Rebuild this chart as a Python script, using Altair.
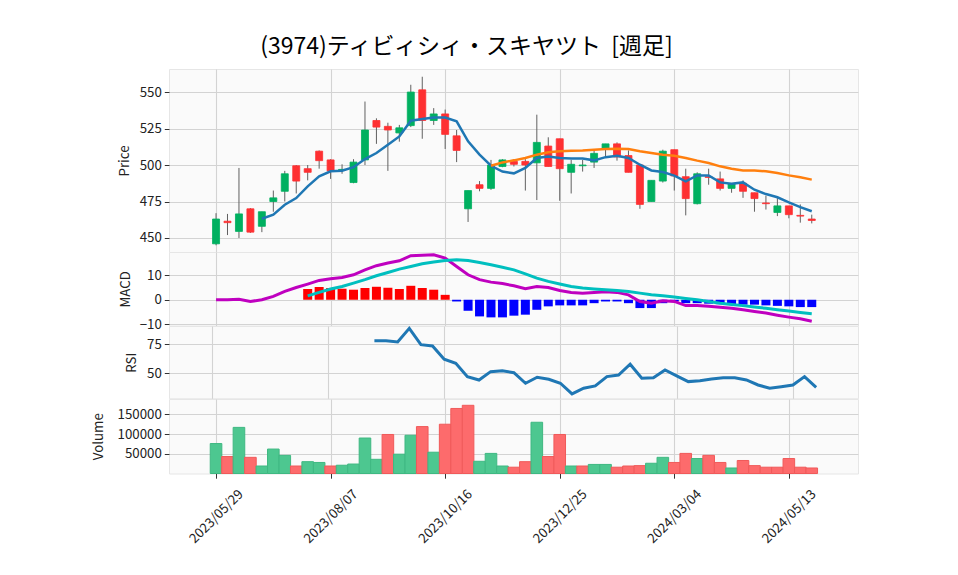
import altair as alt
import pandas as pd

FONT = "Noto Sans CJK JP"
TITLE = "(3974)ティビィシィ・スキヤツト \u00a0[週足]"

# x tick positions (week index) and labels
tick_idx = [0, 10, 20, 30, 40, 50]
tick_labels = ["2023/05/29", "2023/08/07", "2023/10/16", "2023/12/25", "2024/03/04", "2024/05/13"]

# weekly OHLC
opens = [446, 461.5, 454.5, 470, 458, 475, 482, 499.5, 497.5, 509.5,
         503.5, 496.5, 488, 503.5, 530.5, 526.5, 522, 527, 551.5, 530.5,
         535, 520, 470, 486.5, 484, 499, 502.5, 502.5, 501.5, 513,
         518, 495, 499.5, 502, 511, 514.5, 506.5, 500, 475, 489,
         510.5, 492, 473.5, 492, 490.5, 484, 487.5, 481, 474, 467.5,
         472, 465.5, 463]
highs = [467, 466.5, 498, 470.5, 468, 482.5, 496, 500, 500, 510,
         504, 500.5, 504, 543.5, 532, 529, 527.5, 555, 560.5, 539,
         538, 524, 482.5, 489, 503.5, 504, 504, 504, 534.5, 519,
         518, 503.5, 503.5, 510, 514.5, 515.5, 510, 500, 489.5, 510.5,
         510.5, 497.5, 495, 497.5, 495.5, 487, 489.5, 481, 479, 477.5,
         472, 473, 466]
lows = [445, 452, 450, 453.5, 454, 468, 475, 480.5, 489.5, 497.5,
        490.5, 494, 487.5, 500, 514.5, 496, 516, 526, 518, 527.5,
        511, 502, 461, 482, 483, 498.5, 499, 482.5, 476, 499,
        475.5, 480.5, 495.5, 498, 505, 503, 495, 470, 475, 488,
        482.5, 465.5, 473, 486.5, 482.5, 481, 477.5, 468, 469.5, 465,
        463.5, 460.5, 460]
closes = [463, 460.5, 466.5, 454, 468, 477.5, 494, 489, 495, 503,
          496, 497, 502, 524, 526, 524, 525.5, 550, 530.5, 535,
          521, 510, 482.5, 484, 500, 503.5, 500.5, 500, 515.5, 499,
          497.5, 500.5, 500, 508, 514.5, 505.5, 495, 473, 489.5, 509.5,
          492.5, 477, 494, 491.5, 484, 487, 482, 477, 473.5, 472,
          466, 465, 462]
volumes = [76000, 43000, 117000, 41000, 19000, 62000, 46000, 19000, 30000, 28000,
           19000, 21000, 24000, 90000, 36000, 99000, 49000, 97000, 119000, 54000,
           125000, 165000, 173000, 31000, 51000, 19000, 16000, 30000, 130000, 43000,
           99000, 19000, 19000, 23000, 23000, 16000, 19000, 20000, 26000, 41000,
           28000, 51000, 38000, 46000, 28000, 14000, 33000, 20000, 16000, 16000,
           38000, 16000, 14000]
vol_dir = ["up", "down", "up", "down", "up", "up", "up", "down", "up", "up",
           "down", "up", "up", "up", "up", "down", "up", "up", "down", "up",
           "down", "down", "down", "up", "up", "up", "down", "down", "up", "down",
           "down", "up", "down", "up", "up", "down", "down", "down", "up", "up",
           "down", "down", "up", "down", "down", "up", "down", "down", "down", "down",
           "down", "down", "down"]

# moving averages
ma5_start = 4
ma5 = [463.2, 466.0, 472.8, 477.4, 485.4, 492.2, 495.7, 496.1, 498.5, 504.1,
       508.2, 513.9, 519.6, 530.4, 531.5, 532.6, 532.6, 529.9, 516.2, 507.1,
       499.5, 495.5, 494.3, 498.0, 504.8, 505.9, 504.8, 504.5, 504.5, 503.2,
       505.4, 506.4, 504.8, 500.2, 496.3, 495.2, 492.7, 488.8, 492.9, 492.9,
       488.1, 487.2, 488.1, 483.1, 480.1, 477.9, 474.4, 471.2, 468.3]
ma25_start = 24
ma25 = [499.5, 501.8, 503.2, 504.8, 507.1, 508.7, 509.4, 509.8, 510.0, 510.5,
        511.0, 511.2, 511.0, 509.4, 508.2, 507.1, 506.4, 504.8, 503.0, 501.4,
        499.1, 497.5, 496.3, 496.3, 495.7, 494.5, 492.9, 491.6, 490.0]

# MACD
macd = [0, 0, 0.2, -0.7, 0, 1.4, 3.4, 5.0, 6.4, 7.9,
        8.6, 9.1, 10.2, 12.2, 13.9, 15.0, 15.9, 18.0, 18.2, 18.4,
        17.0, 13.6, 10.2, 8.2, 7.2, 6.6, 5.7, 4.5, 5.4, 5.0,
        3.8, 3.0, 2.7, 3.0, 3.3, 3.0, 2.0, -0.7, -1.4, -0.4,
        -0.7, -2.4, -2.4, -2.7, -3.1, -3.5, -4.1, -4.8, -5.4, -6.3,
        -7.1, -7.8, -8.8]
signal_start = 8
signal = [1.6, 3.0, 4.4, 5.4, 6.8, 8.2, 9.8, 11.1, 12.5, 13.6,
          14.7, 15.4, 16.0, 16.3, 16.0, 15.2, 14.3, 13.3, 12.2, 10.6,
          8.8, 7.5, 6.4, 5.4, 4.8, 4.4, 4.1, 3.8, 3.4, 2.7,
          2.0, 1.6, 1.1, 0.5, 0, -0.7, -1.4, -1.9, -2.4, -3.0,
          -3.5, -4.1, -4.6, -5.2, -5.7]
hist = [4.4, 5.2, 4.8, 4.5, 4.1, 4.8, 5.3, 4.9, 4.4, 5.7,
        4.8, 4.1, 2.0, -0.7, -4.5, -6.8, -7.2, -7.2, -6.5, -6.1,
        -4.1, -2.7, -2.3, -2.3, -2.3, -1.4, -0.7, -0.7, -1.4, -3.4,
        -3.4, -1.4, -0.7, -1.4, -1.4, -1.6, -1.8, -1.8, -2.0, -2.0,
        -2.3, -2.5, -2.7, -3.0, -3.0]
hist_base = [0] * len(hist)

# RSI
rsi_start = 14
rsi = [78.1, 78.1, 77.0, 88.8, 74.7, 73.5, 62.1, 58.6, 47.1, 44.2,
       51.4, 52.2, 50.5, 41.4, 46.6, 44.8, 41.4, 32.2, 37.1, 39.1,
       47.1, 48.5, 57.8, 45.7, 46.2, 52.8, 47.7, 42.8, 43.6, 45.1,
       46.2, 46.2, 44.2, 39.9, 37.1, 38.4, 39.9, 47.1, 37.9]

n = len(closes)
ohlc = pd.DataFrame({
    "i": list(range(n)), "open": opens, "high": highs, "low": lows, "close": closes,
    "dir": ["up" if c >= o else "down" for o, c in zip(opens, closes)],
})
vol_df = pd.DataFrame({"i": list(range(n)), "vol": volumes, "dir": vol_dir})
ma5_df = pd.DataFrame({"i": list(range(ma5_start, ma5_start + len(ma5))), "v": ma5})
ma25_df = pd.DataFrame({"i": list(range(ma25_start, ma25_start + len(ma25))), "v": ma25})
macd_df = pd.DataFrame({"i": list(range(len(macd))), "v": macd})
sig_df = pd.DataFrame({"i": list(range(signal_start, signal_start + len(signal))), "v": signal})
hist_df = pd.DataFrame({"i": list(range(signal_start, signal_start + len(hist))), "v": hist,
                        "base": hist_base,
                        "dir": ["up" if h >= 0 else "down" for h in hist]})
rsi_df = pd.DataFrame({"i": list(range(rsi_start, rsi_start + len(rsi))), "v": rsi})

X_DOMAIN = [-3.67, 55.6]
W = 689
label_expr = ("[" + ",".join("'%s'" % s for s in tick_labels) + "][indexof(["
              + ",".join(str(v) for v in tick_idx) + "], datum.value)]")


def xenc(bottom=False):
    if bottom:
        axis = alt.Axis(values=tick_idx, labelExpr=label_expr, labelAngle=315,
                        labelAlign="center", labelBaseline="middle", labelPadding=38,
                        labelFlush=False, title=None, grid=True, domain=False, ticks=True)
    else:
        axis = alt.Axis(values=tick_idx, labels=False, ticks=False, domain=False,
                        title=None, grid=True)
    return alt.X("i:Q", scale=alt.Scale(domain=X_DOMAIN, nice=False, zero=False), axis=axis)


def yscale(lo, hi):
    return alt.Scale(domain=[lo, hi], nice=False, zero=False)


def yaxis(values, title, **kw):
    return alt.Axis(values=values, title=title, domain=False, labelOverlap=False, **kw)


# ---- price panel
ps = yscale(440.4, 565.8)
pax = yaxis([450, 475, 500, 525, 550], "Price", titlePadding=8)
candle_colors = alt.Scale(domain=["up", "down"], range=["#00b060", "#fe3032"])
wick = alt.Chart(ohlc).mark_rule(color="#606060", strokeWidth=1).encode(
    x=xenc(), y=alt.Y("low:Q", scale=ps, axis=pax), y2="high:Q")
body = alt.Chart(ohlc).mark_bar(size=7, strokeWidth=0.8).encode(
    x=xenc(), y=alt.Y("open:Q", scale=ps, axis=pax), y2="close:Q",
    color=alt.Color("dir:N", scale=candle_colors, legend=None),
    stroke=alt.Stroke("dir:N", scale=candle_colors, legend=None))
l5 = alt.Chart(ma5_df).mark_line(color="#1f77b4", strokeWidth=2.5).encode(
    x=xenc(), y=alt.Y("v:Q", scale=ps, axis=pax))
l25 = alt.Chart(ma25_df).mark_line(color="#ff7f0e", strokeWidth=2.5).encode(
    x=xenc(), y=alt.Y("v:Q", scale=ps, axis=pax))
price = alt.layer(wick, body, l5, l25).properties(width=W, height=183)

# ---- MACD panel
ms = yscale(-10.6, 19.5)
max_ = yaxis([-10, 0, 10], "MACD", labelExpr="format(datum.value, 'd')", titlePadding=7)
hbars = alt.Chart(hist_df).mark_bar(size=9).encode(
    x=xenc(), y=alt.Y("v:Q", scale=ms, axis=max_), y2="base:Q",
    color=alt.Color("dir:N", scale=alt.Scale(domain=["up", "down"], range=["#ff0000", "#0000ff"]),
                    legend=None))
mline = alt.Chart(macd_df).mark_line(color="#bf00bf", strokeWidth=3).encode(
    x=xenc(), y=alt.Y("v:Q", scale=ms, axis=max_))
sline = alt.Chart(sig_df).mark_line(color="#00bfbf", strokeWidth=3).encode(
    x=xenc(), y=alt.Y("v:Q", scale=ms, axis=max_))
macd_panel = alt.layer(hbars, mline, sline).properties(width=W, height=73.7)

# ---- RSI panel
rs = yscale(28.4, 90.8)
rsi_panel = alt.Chart(rsi_df).mark_line(color="#1f77b4", strokeWidth=3).encode(
    x=xenc(), y=alt.Y("v:Q", scale=rs, axis=yaxis([50, 75], "RSI", titlePadding=8))
).properties(width=W, height=72.3)

# ---- Volume panel
vs = yscale(0, 189000)
vol_colors = alt.Scale(domain=["up", "down"], range=["#4dc790", "#fd6b6c"])
vol_edges = alt.Scale(domain=["up", "down"], range=["#3fb882", "#f05a5a"])
vol_panel = alt.Chart(vol_df).mark_bar(size=11.6, strokeWidth=1).encode(
    x=xenc(bottom=True),
    y=alt.Y("vol:Q", scale=vs, axis=yaxis([50000, 100000, 150000], "Volume", format="d",
                                          titlePadding=12)),
    color=alt.Color("dir:N", scale=vol_colors, legend=None),
    stroke=alt.Stroke("dir:N", scale=vol_edges, legend=None),
).properties(width=W, height=74.5)

chart = alt.vconcat(price, macd_panel, rsi_panel, vol_panel, spacing=0, bounds="flush").resolve_scale(
    color="independent", stroke="independent"
).properties(
    title=alt.TitleParams(TITLE, font=FONT, fontSize=23, fontWeight="normal", color="#000000",
                          anchor="middle", dx=-8, offset=10),
    padding={"left": 82, "top": 27, "right": 5, "bottom": 5},
).configure_view(
    fill="#fafafa", stroke="#e6e6e6"
).configure_axis(
    labelFont=FONT, titleFont=FONT, labelFontSize=13.3, titleFontSize=13.3,
    titleFontWeight="normal", labelColor="#222222", titleColor="#222222",
    gridColor="#d3d3d3", gridWidth=1.1, tickColor="#333333", tickSize=4.7,
    labelPadding=3, titlePadding=6,
)

chart.save("out.html", embed_options={"renderer": "svg", "actions": False})
